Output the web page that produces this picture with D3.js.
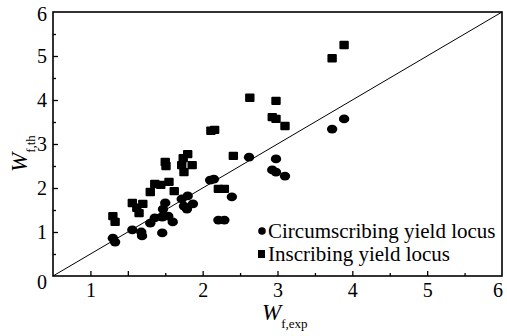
<!DOCTYPE html>
<html>
<head>
<meta charset="utf-8">
<script src="https://cdn.jsdelivr.net/npm/d3@7/dist/d3.min.js"></script>
<style>
  html, body { margin: 0; padding: 0; background: #fff; }
  svg { display: block; }
  svg text { font-family: "Liberation Serif", "Times New Roman", Tinos, "DejaVu Serif", "Noto Serif", serif !important; fill: #000; }
</style>
</head>
<body>
<svg id="chart" width="507" height="336"></svg>
<script>
// Circumscribing yield locus (circles)
const circX = [0.80,0.83,1.06,1.18,1.19,1.30,1.36,1.46,1.54,1.60,1.46,1.50,1.47,1.72,1.75,1.79,1.87,1.80,2.10,2.15,2.39,2.21,2.29,2.62,2.98,2.93,2.98,3.10,3.73,3.89];
const circY = [0.86,0.77,1.05,1.00,0.91,1.20,1.32,1.34,1.36,1.23,0.98,1.66,1.52,1.75,1.59,1.52,1.64,1.82,2.18,2.20,1.80,1.27,1.27,2.70,2.66,2.41,2.36,2.27,3.34,3.57];
// Inscribing yield locus (squares)
const sqX = [0.80,0.83,1.06,1.12,1.20,1.15,1.30,1.36,1.44,1.55,1.62,1.50,1.51,1.80,1.74,1.72,1.86,1.75,2.11,2.16,2.41,2.21,2.29,2.63,2.98,2.93,2.98,3.10,3.73,3.89];
const sqY = [1.36,1.23,1.66,1.55,1.64,1.43,1.91,2.09,2.07,2.14,1.93,2.59,2.50,2.77,2.68,2.52,2.52,2.36,3.30,3.32,2.73,1.98,1.98,4.05,3.98,3.61,3.57,3.41,4.95,5.25];

const xMajorTicks = [0.5, 1, 2, 3, 4, 5];
const xMinorTicks = [1.5, 2.5, 3.5, 4.5, 5.5];
const xTickLabels = {0.5: "1", 1: "", 2: "2", 3: "3", 4: "4", 5: "5"};
const yMajorTicks = [1, 2, 3, 4, 5];
const yMinorTicks = [0.5, 1.5, 2.5, 3.5, 4.5, 5.5];
const yTickLabels = ["0", "1", "2", "3", "4", "5", "6"];
const legendLabels = ["Circumscribing yield locus", "Inscribing yield locus"];

const SERIF = "'Liberation Serif', 'Times New Roman', Tinos, 'DejaVu Serif', 'Noto Serif', serif";
const W = 507, H = 336;
const m = {left: 53, right: 5, top: 12, bottom: 60};
const svg = d3.select("#chart");
const x = d3.scaleLinear().domain([0, 6]).range([m.left, W - m.right]);
const y = d3.scaleLinear().domain([0, 6]).range([H - m.bottom, m.top]);

// diagonal y = x
svg.append("line")
  .attr("x1", x(0)).attr("y1", y(0)).attr("x2", x(6)).attr("y2", y(6))
  .attr("stroke", "#000").attr("stroke-width", 1);

// frame
svg.append("rect")
  .attr("x", x(0)).attr("y", y(6))
  .attr("width", x(6) - x(0)).attr("height", y(0) - y(6))
  .attr("fill", "none").attr("stroke", "#000").attr("stroke-width", 1.6);

// x ticks (inward)
const xAxisMajor = d3.axisBottom(x).tickValues(xMajorTicks).tickSizeInner(-5).tickSizeOuter(0).tickFormat(d => xTickLabels[d]);
const gx = svg.append("g").attr("transform", `translate(0,${y(0)})`).call(xAxisMajor).attr("font-family", SERIF);
gx.select(".domain").remove();
gx.selectAll(".tick line").attr("stroke", "#000").attr("stroke-width", 1.3);
gx.selectAll(".tick text").attr("font-size", 20).attr("y", 7).attr("dy", "0.71em");
const xAxisMinor = d3.axisBottom(x).tickValues(xMinorTicks).tickSizeInner(-3).tickSizeOuter(0).tickFormat("");
const gxm = svg.append("g").attr("transform", `translate(0,${y(0)})`).call(xAxisMinor);
gxm.select(".domain").remove();
gxm.selectAll(".tick line").attr("stroke", "#000").attr("stroke-width", 1.3);
svg.append("text").attr("x", x(6) - 4).attr("y", y(0) + 7).attr("dy", "0.71em").attr("font-family", SERIF)
  .attr("text-anchor", "middle").attr("font-size", 20).text("6");

// y ticks (inward)
const yAxisMajor = d3.axisLeft(y).tickValues(yMajorTicks).tickSizeInner(-5).tickSizeOuter(0).tickFormat(d => yTickLabels[d]);
const gy = svg.append("g").attr("transform", `translate(${x(0)},0)`).call(yAxisMajor).attr("font-family", SERIF);
gy.select(".domain").remove();
gy.selectAll(".tick line").attr("stroke", "#000").attr("stroke-width", 1.3);
gy.selectAll(".tick text").attr("font-size", 20).attr("x", -6);
const yAxisMinor = d3.axisLeft(y).tickValues(yMinorTicks).tickSizeInner(-3).tickSizeOuter(0).tickFormat("");
const gym = svg.append("g").attr("transform", `translate(${x(0)},0)`).call(yAxisMinor);
gym.select(".domain").remove();
gym.selectAll(".tick line").attr("stroke", "#000").attr("stroke-width", 1.3);
svg.append("text").attr("x", x(0) - 6).attr("y", y(0) + 7).attr("dy", "0.32em").attr("font-family", SERIF)
  .attr("text-anchor", "end").attr("font-size", 20).text(yTickLabels[0]);
svg.append("text").attr("x", x(0) - 6).attr("y", y(6) + 3).attr("dy", "0.32em").attr("font-family", SERIF)
  .attr("text-anchor", "end").attr("font-size", 20).text(yTickLabels[6]);

// axis titles
const xt = svg.append("text").attr("x", 262).attr("y", 320).attr("font-size", 23).attr("font-family", SERIF);
xt.append("tspan").attr("font-style", "italic").text("W");
xt.append("tspan").attr("font-size", 13).attr("dy", 8).text("f,exp");

const yt = svg.append("text").attr("transform", "translate(27,172) rotate(-90)").attr("font-size", 23).attr("font-family", SERIF);
yt.append("tspan").attr("font-style", "italic").text("W");
yt.append("tspan").attr("font-size", 13).attr("dy", 8).text("f,th");

// data
const circles = circX.map((v, i) => ({x: v, y: circY[i]}));
const squares = sqX.map((v, i) => ({x: v, y: sqY[i]}));
svg.append("g").selectAll("ellipse").data(circles).enter().append("ellipse")
  .attr("cx", d => x(d.x)).attr("cy", d => y(d.y)).attr("rx", 5.2).attr("ry", 4.4).attr("fill", "#000");
svg.append("g").selectAll("rect").data(squares).enter().append("rect")
  .attr("x", d => x(d.x) - 4.7).attr("y", d => y(d.y) - 4.2).attr("width", 9.4).attr("height", 8.4)
  .attr("rx", 1).attr("fill", "#000");

// legend
const lg = svg.append("g").attr("font-family", SERIF);
lg.append("ellipse").attr("cx", 262).attr("cy", 231).attr("rx", 3.8).attr("ry", 3.8).attr("fill", "#000");
lg.append("text").attr("x", 268).attr("y", 238).attr("font-size", 21).text(legendLabels[0]);
lg.append("rect").attr("x", 258).attr("y", 250).attr("width", 7).attr("height", 8).attr("fill", "#000");
lg.append("text").attr("x", 268).attr("y", 261).attr("font-size", 21).text(legendLabels[1]);
</script>
</body>
</html>
